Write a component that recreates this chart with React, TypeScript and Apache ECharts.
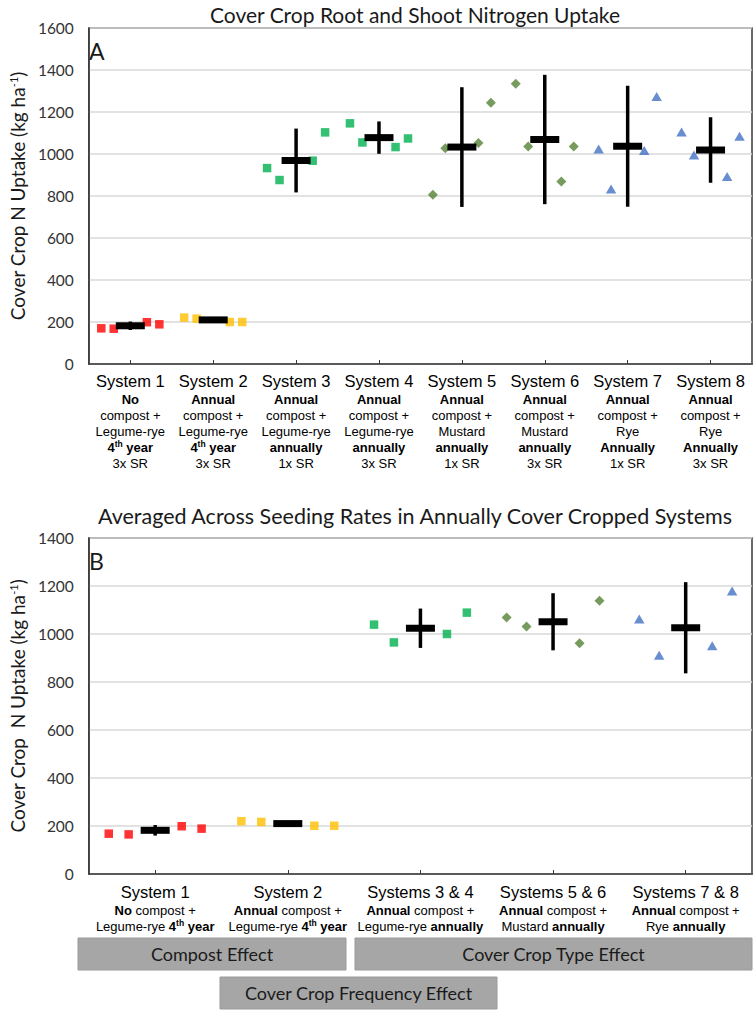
import React, { useEffect, useRef } from 'react';
import * as echarts from 'echarts';

// ---------- Panel A data ----------
const topCategories = ['System 1', 'System 2', 'System 3', 'System 4', 'System 5', 'System 6', 'System 7', 'System 8'];
const topCompost = ['No', 'Annual', 'Annual', 'Annual', 'Annual', 'Annual', 'Annual', 'Annual'];
const topCrop = ['Legume-rye', 'Legume-rye', 'Legume-rye', 'Legume-rye', 'Mustard', 'Mustard', 'Rye', 'Rye'];
const topFrequency = ['4th year', '4th year', 'annually', 'annually', 'annually', 'annually', 'Annually', 'Annually'];
const topSeeding = ['3x SR', '3x SR', '1x SR', '3x SR', '1x SR', '3x SR', '1x SR', '3x SR'];

const topSys1 = [170, 168, 199, 189];
const topSys2 = [221, 216, 200, 200];
const topSys3 = [933, 876, 968, 1103];
const topSys4 = [1146, 1055, 1033, 1074];
const topSys5 = [806, 1027, 1052, 1244];
const topSys6 = [1334, 1036, 869, 1036];
const topSys7 = [1024, 833, 1017, 1274];
const topSys8 = [1105, 995, 893, 1084];
const topPoints = [topSys1, topSys2, topSys3, topSys4, topSys5, topSys6, topSys7, topSys8];
const topMeans = [182, 210, 969, 1078, 1033, 1069, 1037, 1019];
const topErrors = [20, 6, 152, 77, 285, 308, 288, 156];

// ---------- Panel B data ----------
const botCategories = ['System 1', 'System 2', 'Systems 3 & 4', 'Systems 5 & 6', 'Systems 7 & 8'];
const botCompost = ['No', 'Annual', 'Annual', 'Annual', 'Annual'];
const botCrop = ['Legume-rye', 'Legume-rye', 'Legume-rye', 'Mustard', 'Rye'];
const botFrequency = ['4th year', '4th year', 'annually', 'annually', 'annually'];

const botSys1 = [168, 165, 199, 189];
const botSys2 = [220, 217, 201, 201];
const botSys34 = [1039, 965, 1000, 1089];
const botSys56 = [1069, 1031, 961, 1139];
const botSys78 = [1063, 911, 951, 1179];
const botPoints = [botSys1, botSys2, botSys34, botSys56, botSys78];
const botMeans = [182, 210, 1024, 1051, 1026];
const botErrors = [22, 5, 82, 119, 190];

// replicate positions within a category (fraction of category width)
const repOffsets = [-0.35, -0.2, 0.2, 0.35];

// ---------- styles ----------
const topColors = ['#FF0000', '#FFC000', '#00B050', '#00B050', '#548235', '#548235', '#4472C4', '#4472C4'];
const topSymbols = ['rect', 'rect', 'rect', 'rect', 'diamond', 'diamond', 'triangle', 'triangle'];
const botColors = ['#FF0000', '#FFC000', '#00B050', '#548235', '#4472C4'];
const botSymbols = ['rect', 'rect', 'rect', 'diamond', 'triangle'];

const symbolSize = (s: string) => (s === 'rect' ? 8.5 : s === 'diamond' ? [10, 10] : [10.5, 9]);

const ARIAL = 'Liberation Sans, Arial, sans-serif';
const CAL = 'Lato, Carlito, Calibri, sans-serif';

const freqRich = (f: string) => {
  const m = f.match(/^(\d+)th (.*)$/);
  if (m) return `{b|${m[1]}}{sup|th}{b| ${m[2]}}`;
  return `{b|${f}}`;
};

const rich = {
  sys: { fontFamily: ARIAL, fontSize: 16.5, lineHeight: 20, color: '#000' },
  b: { fontFamily: ARIAL, fontSize: 13, fontWeight: 'bold', lineHeight: 16, color: '#000' },
  n: { fontFamily: ARIAL, fontSize: 13, lineHeight: 16, color: '#000' },
  sup: { fontFamily: ARIAL, fontSize: 8.5, fontWeight: 'bold', lineHeight: 8, verticalAlign: 'top', color: '#000' },
};

const renderErr = (params: any, api: any) => {
  const x = api.value(0);
  const m = api.value(1);
  const e = api.value(2);
  const c = api.coord([x, m]);
  const t = api.coord([x, m + e]);
  const b = api.coord([x, m - e]);
  return {
    type: 'group',
    children: [
      { type: 'line', shape: { x1: t[0], y1: t[1], x2: b[0], y2: b[1] }, style: { stroke: '#000', lineWidth: 3.5 } },
      { type: 'rect', shape: { x: c[0] - 14.5, y: c[1] - 3.5, width: 29, height: 7 }, style: { fill: '#000' } },
    ],
  };
};

const BORDER = '#3a3a3a';

const valueY = (gridIndex: number, max: number, nameText: string) => ({
  type: 'value',
  gridIndex,
  min: 0,
  max,
  interval: 200,
  name: nameText,
  nameLocation: 'middle',
  nameGap: 57,
  nameTextStyle: {
    rich: {
      n: { fontFamily: CAL, fontSize: 19, color: '#1a1a1a' },
      sup: { fontFamily: CAL, fontSize: 11, color: '#1a1a1a', verticalAlign: 'top', lineHeight: 10 },
    },
  },
  axisLine: { show: true, onZero: false, lineStyle: { color: BORDER, width: 1.5 } },
  axisTick: { show: false },
  axisLabel: { fontFamily: CAL, fontSize: 15.5, color: '#333', margin: 15, formatter: (v: number) => String(v) },
  splitLine: { show: true, lineStyle: { color: '#D9D9D9', width: 1.5 } },
});

const App: React.FC = () => {
  const ref = useRef<HTMLDivElement>(null);

  useEffect(() => {
    if (!ref.current) return;
    const chart = echarts.init(ref.current, null, { renderer: 'svg' });

    const series: any[] = [];
    topPoints.forEach((pts, i) => {
      series.push({
        type: 'scatter',
        xAxisIndex: 1,
        yAxisIndex: 0,
        symbol: topSymbols[i],
        symbolSize: symbolSize(topSymbols[i]),
        itemStyle: { color: topColors[i] },
        data: pts.map((v, k) => [i + repOffsets[k], v]),
        z: 2,
      });
    });
    series.push({
      type: 'custom',
      xAxisIndex: 1,
      yAxisIndex: 0,
      renderItem: renderErr,
      encode: { x: 0, y: 1 },
      data: topMeans.map((m, i) => [i, m, topErrors[i]]),
      z: 3,
    });
    botPoints.forEach((pts, i) => {
      series.push({
        type: 'scatter',
        xAxisIndex: 3,
        yAxisIndex: 1,
        symbol: botSymbols[i],
        symbolSize: symbolSize(botSymbols[i]),
        itemStyle: { color: botColors[i] },
        data: pts.map((v, k) => [i + repOffsets[k], v]),
        z: 2,
      });
    });
    series.push({
      type: 'custom',
      xAxisIndex: 3,
      yAxisIndex: 1,
      renderItem: renderErr,
      encode: { x: 0, y: 1 },
      data: botMeans.map((m, i) => [i, m, botErrors[i]]),
      z: 3,
    });

    const boxText = (x: number, y: number, w: number, h: number, text: string) => [
      { type: 'rect', shape: { x, y, width: w, height: h }, style: { fill: '#A6A6A6', stroke: '#9a9a9a', lineWidth: 1 } },
      {
        type: 'text',
        x: x + w / 2,
        y: y + h / 2,
        style: { text, fontFamily: CAL, fontSize: 18, fill: '#1a1a1a', align: 'center', verticalAlign: 'middle' },
      },
    ];

    chart.setOption({
      animation: false,
      backgroundColor: '#fff',
      grid: [
        { left: 78, top: 28, width: 674, height: 336, show: true, borderColor: BORDER, borderWidth: 1.5 },
        { left: 78, top: 538, width: 674, height: 336, show: true, borderColor: BORDER, borderWidth: 1.5 },
      ],
      xAxis: [
        {
          type: 'category',
          gridIndex: 0,
          data: topCategories,
          axisLine: { show: true, onZero: false, lineStyle: { color: BORDER, width: 1.5 } },
          axisTick: { show: true, alignWithLabel: true, inside: true, length: 4, lineStyle: { color: BORDER, width: 1 } },
          splitLine: { show: false },
          axisLabel: {
            interval: 0,
            margin: 7,
            formatter: (v: string, i: number) =>
              `{sys|${v}}\n{b|${topCompost[i]}}\n{n|compost +}\n{n|${topCrop[i]}}\n${freqRich(topFrequency[i])}\n{n|${topSeeding[i]}}`,
            rich,
          },
        },
        { type: 'value', gridIndex: 0, min: -0.5, max: 7.5, show: false, axisLine: { onZero: false }, splitLine: { show: false } },
        {
          type: 'category',
          gridIndex: 1,
          data: botCategories,
          axisLine: { show: true, onZero: false, lineStyle: { color: BORDER, width: 1.5 } },
          axisTick: { show: true, alignWithLabel: true, inside: true, length: 4, lineStyle: { color: BORDER, width: 1 } },
          splitLine: { show: false },
          axisLabel: {
            interval: 0,
            margin: 8,
            formatter: (v: string, i: number) =>
              `{sys|${v}}\n{b|${botCompost[i]}}{n| compost +}\n{n|${botCrop[i]} }${freqRich(botFrequency[i])}`,
            rich,
          },
        },
        { type: 'value', gridIndex: 1, min: -0.5, max: 4.5, show: false, axisLine: { onZero: false }, splitLine: { show: false } },
      ],
      yAxis: [
        valueY(0, 1600, '{n|Cover Crop N Uptake (kg ha}{sup|-1}{n|)}'),
        valueY(1, 1400, '{n|Cover Crop  N Uptake (kg ha}{sup|-1}{n|)}'),
      ],
      graphic: [
        {
          type: 'text',
          x: 415,
          y: 14,
          style: { text: 'Cover Crop Root and Shoot Nitrogen Uptake', fontFamily: CAL, fontSize: 21, fill: '#1a1a1a', align: 'center', verticalAlign: 'middle' },
        },
        {
          type: 'text',
          x: 415,
          y: 516,
          style: { text: 'Averaged Across Seeding Rates in Annually Cover Cropped Systems', fontFamily: CAL, fontSize: 21.5, fill: '#1a1a1a', align: 'center', verticalAlign: 'middle' },
        },
        { type: 'text', x: 89, y: 51, style: { text: 'A', fontFamily: CAL, fontSize: 23, fill: '#1a1a1a', verticalAlign: 'middle' } },
        { type: 'text', x: 89, y: 561, style: { text: 'B', fontFamily: CAL, fontSize: 23, fill: '#1a1a1a', verticalAlign: 'middle' } },
        ...boxText(78, 938, 268, 32, 'Compost Effect'),
        ...boxText(355, 938, 397, 32, 'Cover Crop Type Effect'),
        ...boxText(220, 977, 277, 32, 'Cover Crop Frequency Effect'),
      ],
      series,
    });

    return () => chart.dispose();
  }, []);

  return <div ref={ref} style={{ position: 'absolute', left: 0, top: 0, width: 755, height: 1016 }} />;
};

export default App;
